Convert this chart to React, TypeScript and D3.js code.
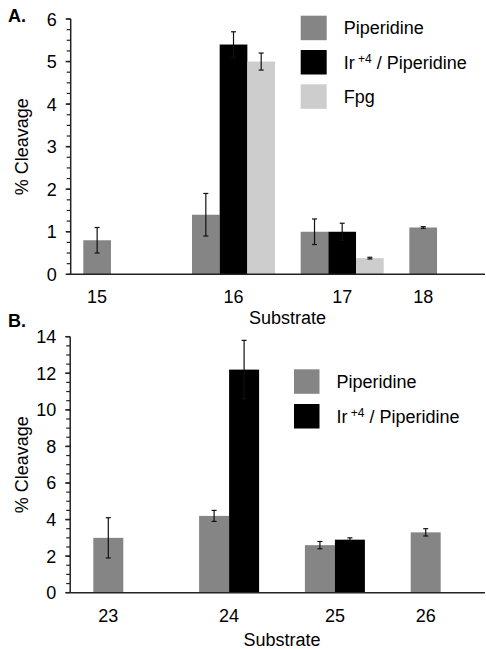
import React from 'react'
import * as d3 from 'd3'

// panel A data
const catsA = ['15', '16', '17', '18']
const pipA = [0.8, 1.4, 1.0, 1.1]
const pipAErr = [0.3, 0.5, 0.3, 0.02]
const irA = [null, 5.4, 1.0, null]
const irAErr = [null, 0.3, 0.2, null]
const fpgA = [null, 5.0, 0.38, null]
const fpgAErr = [null, 0.2, 0.02, null]
const ticksA = [0, 1, 2, 3, 4, 5, 6]

// panel B data
const catsB = ['23', '24', '25', '26']
const pipB = [3.0, 4.2, 2.6, 3.3]
const pipBErr = [1.1, 0.3, 0.2, 0.2]
const irB = [null, 12.2, 2.9, null]
const irBErr = [null, 1.6, 0.1, null]
const ticksB = [0, 2, 4, 6, 8, 10, 12, 14]

const GRAY = '#858585'
const BLACK = '#000000'
const LIGHT = '#cdcdcd'
const FONT = '"Liberation Sans", Arial, Helvetica, sans-serif'

type Series = { name: string, color: string, values: (number | null)[], errs: (number | null)[] }

function IrLabel() {
  return (
    <>
      Ir<tspan fontSize={12} dy={-6}> +4</tspan><tspan dy={6}> / Piperidine</tspan>
    </>
  )
}

function Panel(props: {
  letter: string, cats: string[], series: Series[], ticks: number[], minorStep: number,
  yTop: number, yBottom: number, axisLeft: number, axisRight: number,
  bandStart: number, bandEnd: number, padInner: number,
  legendX: number, legendY: number, legendStep: number, boxW: number, boxH: number,
  labelY: number, titleY: number, titleX: number, letterY: number
}) {
  const p = props
  const maxT = p.ticks[p.ticks.length - 1]
  const y = d3.scaleLinear().domain([0, maxT]).range([p.yBottom, p.yTop])
  const x = d3.scaleBand().domain(p.cats).range([p.bandStart, p.bandEnd]).paddingInner(p.padInner).paddingOuter(0)
  const inner = d3.scaleBand().domain(p.series.map(s => s.name)).range([0, x.bandwidth()])
  const minor = d3.range(0, maxT + 1e-6, p.minorStep)
  const midY = (p.yTop + p.yBottom) / 2

  return (
    <g>
      <text x={8} y={p.letterY} fontSize={18} fontWeight="bold" fontFamily={FONT}>{p.letter}</text>
      {/* bars */}
      {p.series.map(s => s.values.map((v, i) => v == null ? null : (
        <rect key={s.name + i} x={x(p.cats[i])! + inner(s.name)!} y={y(v)}
          width={inner.bandwidth()} height={y(0) - y(v)} fill={s.color} />
      )))}
      {/* error bars */}
      {p.series.map(s => s.values.map((v, i) => {
        if (v == null) return null
        const e = s.errs[i] || 0
        const cx = x(p.cats[i])! + inner(s.name)! + inner.bandwidth() / 2
        return (
          <g key={'e' + s.name + i} stroke="#111" strokeWidth={1.2}>
            <line x1={cx} x2={cx} y1={y(v + e)} y2={y(v - e)} />
            <line x1={cx - 2.5} x2={cx + 2.5} y1={y(v + e)} y2={y(v + e)} />
            <line x1={cx - 2.5} x2={cx + 2.5} y1={y(v - e)} y2={y(v - e)} />
          </g>
        )
      }))}
      {/* y axis */}
      <line x1={p.axisLeft} x2={p.axisLeft} y1={p.yTop} y2={p.yBottom} stroke="#222" strokeWidth={1.5} />
      {minor.map(t => (
        <line key={'m' + t} x1={p.axisLeft - 4} x2={p.axisLeft} y1={y(t)} y2={y(t)} stroke="#222" strokeWidth={1.2} />
      ))}
      {p.ticks.map(t => (
        <g key={'t' + t}>
          <line x1={p.axisLeft - 5} x2={p.axisLeft} y1={y(t)} y2={y(t)} stroke="#222" strokeWidth={1.5} />
          <text x={p.axisLeft - 14} y={y(t) + 6.5} textAnchor="end" fontSize={18} fontFamily={FONT}>{t}</text>
        </g>
      ))}
      {/* x axis */}
      <line x1={p.axisLeft} x2={p.axisRight} y1={p.yBottom} y2={p.yBottom} stroke="#222" strokeWidth={1.5} />
      {p.cats.map((c, i) => {
        const present = p.series.filter(s => s.values[i] != null)
        const cx = d3.mean(present, s => x(c)! + inner(s.name)! + inner.bandwidth() / 2)!
        return <text key={'c' + c} x={cx} y={p.labelY} textAnchor="middle" fontSize={18} fontFamily={FONT}>{c}</text>
      })}
      <text x={p.titleX} y={p.titleY} textAnchor="middle" fontSize={18} fontFamily={FONT}>Substrate</text>
      <text transform={`translate(28,${midY}) rotate(-90)`} textAnchor="middle" fontSize={18} fontFamily={FONT}>% Cleavage</text>
      {/* legend */}
      {p.series.map((s, i) => (
        <g key={'l' + s.name} transform={`translate(${p.legendX},${p.legendY + i * p.legendStep})`}>
          <rect width={p.boxW} height={p.boxH} fill={s.color} />
          <text x={p.boxW + 17} y={p.boxH / 2 + 6.5} fontSize={18} fontFamily={FONT}>
            {s.name === 'Ir' ? <IrLabel /> : s.name}
          </text>
        </g>
      ))}
    </g>
  )
}

export default function App() {
  const seriesA: Series[] = [
    { name: 'Piperidine', color: GRAY, values: pipA, errs: pipAErr },
    { name: 'Ir', color: BLACK, values: irA, errs: irAErr },
    { name: 'Fpg', color: LIGHT, values: fpgA, errs: fpgAErr },
  ]
  const seriesB: Series[] = [
    { name: 'Piperidine', color: GRAY, values: pipB, errs: pipBErr },
    { name: 'Ir', color: BLACK, values: irB, errs: irBErr },
  ]
  return (
    <svg width={486} height={649} style={{ position: 'absolute', left: 0, top: 0, background: '#fff' }}>
      <Panel letter="A." cats={catsA} series={seriesA} ticks={ticksA} minorStep={0.25}
        yTop={19} yBottom={274.3} axisLeft={70.7} axisRight={485}
        bandStart={83.3} bandEnd={492.4} padInner={0.236}
        legendX={300.7} legendY={15.7} legendStep={34.3} boxW={26} boxH={24.5}
        labelY={303} titleY={324} titleX={287.5} letterY={22} />
      <Panel letter="B." cats={catsB} series={seriesB} ticks={ticksB} minorStep={0.5}
        yTop={336.7} yBottom={592.7} axisLeft={70.2} axisRight={485}
        bandStart={93.3} bandEnd={470.7} padInner={0.433}
        legendX={294} legendY={369.3} legendStep={34.7} boxW={25.5} boxH={24.5}
        labelY={621.5} titleY={645.5} titleX={282} letterY={327} />
    </svg>
  )
}
